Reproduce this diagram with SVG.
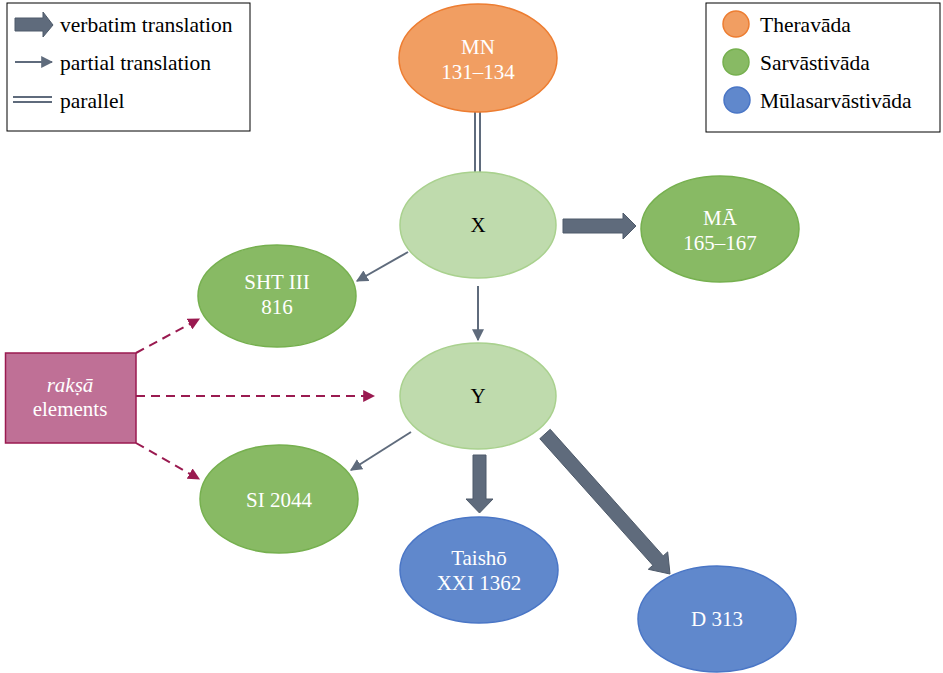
<svg xmlns="http://www.w3.org/2000/svg" width="943" height="673" viewBox="0 0 943 673">
<style>
text{font-family:'Liberation Serif','Times New Roman',serif;font-size:21px;text-anchor:middle}
.w{fill:#ffffff}
.k{fill:#000000}
.lg{text-anchor:start;fill:#000000;font-size:21.5px}
.or{fill:#F19E62;stroke:#ED7D31;stroke-width:1.5}
.gr{fill:#88BA64;stroke:#76B04F;stroke-width:1.5}
.lgr{fill:#BFDBAD;stroke:#A9D18E;stroke-width:1.5}
.bl{fill:#6088CC;stroke:#4A76C6;stroke-width:1.5}
.thin{stroke:#5F6B7C;stroke-width:2;fill:none;marker-end:url(#ah)}
.dash{stroke:#9A1A50;stroke-width:2;fill:none;stroke-dasharray:9,6;marker-end:url(#dh)}
.big{fill:#5F6B7C;stroke:#4E5A6A;stroke-width:1}
.par{stroke:#5F6B7C;stroke-width:2;fill:none}
</style>
<defs>
<marker id="ah" viewBox="0 0 10 10" refX="9" refY="5" markerWidth="6" markerHeight="6" markerUnits="strokeWidth" orient="auto">
<path d="M0,0 L10,5 L0,10 z" fill="#5F6B7C"/>
</marker>
<marker id="dh" viewBox="0 0 10 10" refX="9" refY="5" markerWidth="6" markerHeight="6" markerUnits="strokeWidth" orient="auto">
<path d="M0,0 L10,5 L0,10 z" fill="#9A1A50"/>
</marker>
</defs>
<rect width="943" height="673" fill="#ffffff"/>

<g id="legend-links">
<rect x="7" y="3" width="243" height="128" fill="#ffffff" stroke="#000" stroke-width="1"/>
<polygon class="big" points="15,18 43,18 43,12 53,25 43,37 43,31 15,31"/>
<text class="lg" x="60" y="32">verbatim translation</text>
<line x1="15" y1="62" x2="52" y2="62" class="thin"/>
<text class="lg" x="60" y="70">partial translation</text>
<line x1="13" y1="97" x2="52" y2="97" class="par"/>
<line x1="13" y1="102" x2="52" y2="102" class="par"/>
<text class="lg" x="60" y="108">parallel</text>
</g>

<g id="legend-schools">
<rect x="706" y="3" width="234" height="129" fill="#ffffff" stroke="#000" stroke-width="1"/>
<circle cx="736" cy="24" r="13" class="or"/>
<text class="lg" x="760" y="32">Theravāda</text>
<circle cx="736" cy="62" r="13" class="gr"/>
<text class="lg" x="760" y="70">Sarvāstivāda</text>
<circle cx="737" cy="100" r="13" class="bl"/>
<text class="lg" x="760" y="108">Mūlasarvāstivāda</text>
</g>

<g id="connectors">
<line x1="475" y1="112" x2="475" y2="172" class="par"/>
<line x1="480" y1="112" x2="480" y2="172" class="par"/>
<polygon class="big" points="563,219 623,219 623,213 636,226 623,239 623,233 563,233"/>
<line x1="408" y1="252" x2="357" y2="281" class="thin"/>
<line x1="478" y1="286" x2="478" y2="340" class="thin"/>
<line x1="411" y1="432" x2="351" y2="470" class="thin"/>
<polygon class="big" points="473,455 486,455 486,499 493,499 479.5,513 466,499 473,499"/>
<polygon class="big" points="539.8,438.7 652.8,565.3 648.3,569.3 670,574 667.7,551.9 663.2,555.9 550.2,429.3"/>
<line x1="136" y1="353" x2="199" y2="319" class="dash"/>
<line x1="136" y1="396" x2="374" y2="396" class="dash"/>
<line x1="136" y1="443" x2="199" y2="479" class="dash"/>
</g>

<g id="node-MN">
<ellipse cx="478" cy="58" rx="79" ry="54" class="or"/>
<text class="w" x="478" y="54">MN</text>
<text class="w" x="478" y="79">131–134</text>
</g>
<g id="node-X">
<ellipse cx="478" cy="225" rx="78" ry="53" class="lgr"/>
<text class="k" x="478" y="232">X</text>
</g>
<g id="node-MA">
<ellipse cx="720" cy="229" rx="79" ry="53" class="gr"/>
<text class="w" x="720" y="225">MĀ</text>
<text class="w" x="720" y="250">165–167</text>
</g>
<g id="node-SHT">
<ellipse cx="277" cy="296" rx="79" ry="51" class="gr"/>
<text class="w" x="277" y="289">SHT III</text>
<text class="w" x="277" y="314">816</text>
</g>
<g id="node-Y">
<ellipse cx="478" cy="396" rx="78" ry="53" class="lgr"/>
<text class="k" x="478" y="403">Y</text>
</g>
<g id="node-raksa">
<rect x="5.5" y="353" width="130.5" height="90" fill="#BF7096" stroke="#9A1A50" stroke-width="1.5"/>
<text class="w" x="70" y="392" font-style="italic">rakṣā</text>
<text class="w" x="70" y="416">elements</text>
</g>
<g id="node-SI">
<ellipse cx="279" cy="499" rx="79" ry="54" class="gr"/>
<text class="w" x="279" y="507">SI 2044</text>
</g>
<g id="node-Taisho">
<ellipse cx="479" cy="570" rx="79" ry="53" class="bl"/>
<text class="w" x="479" y="565">Taishō</text>
<text class="w" x="479" y="590">XXI 1362</text>
</g>
<g id="node-D313">
<ellipse cx="717" cy="619" rx="79" ry="53" class="bl"/>
<text class="w" x="717" y="626">D 313</text>
</g>
</svg>
